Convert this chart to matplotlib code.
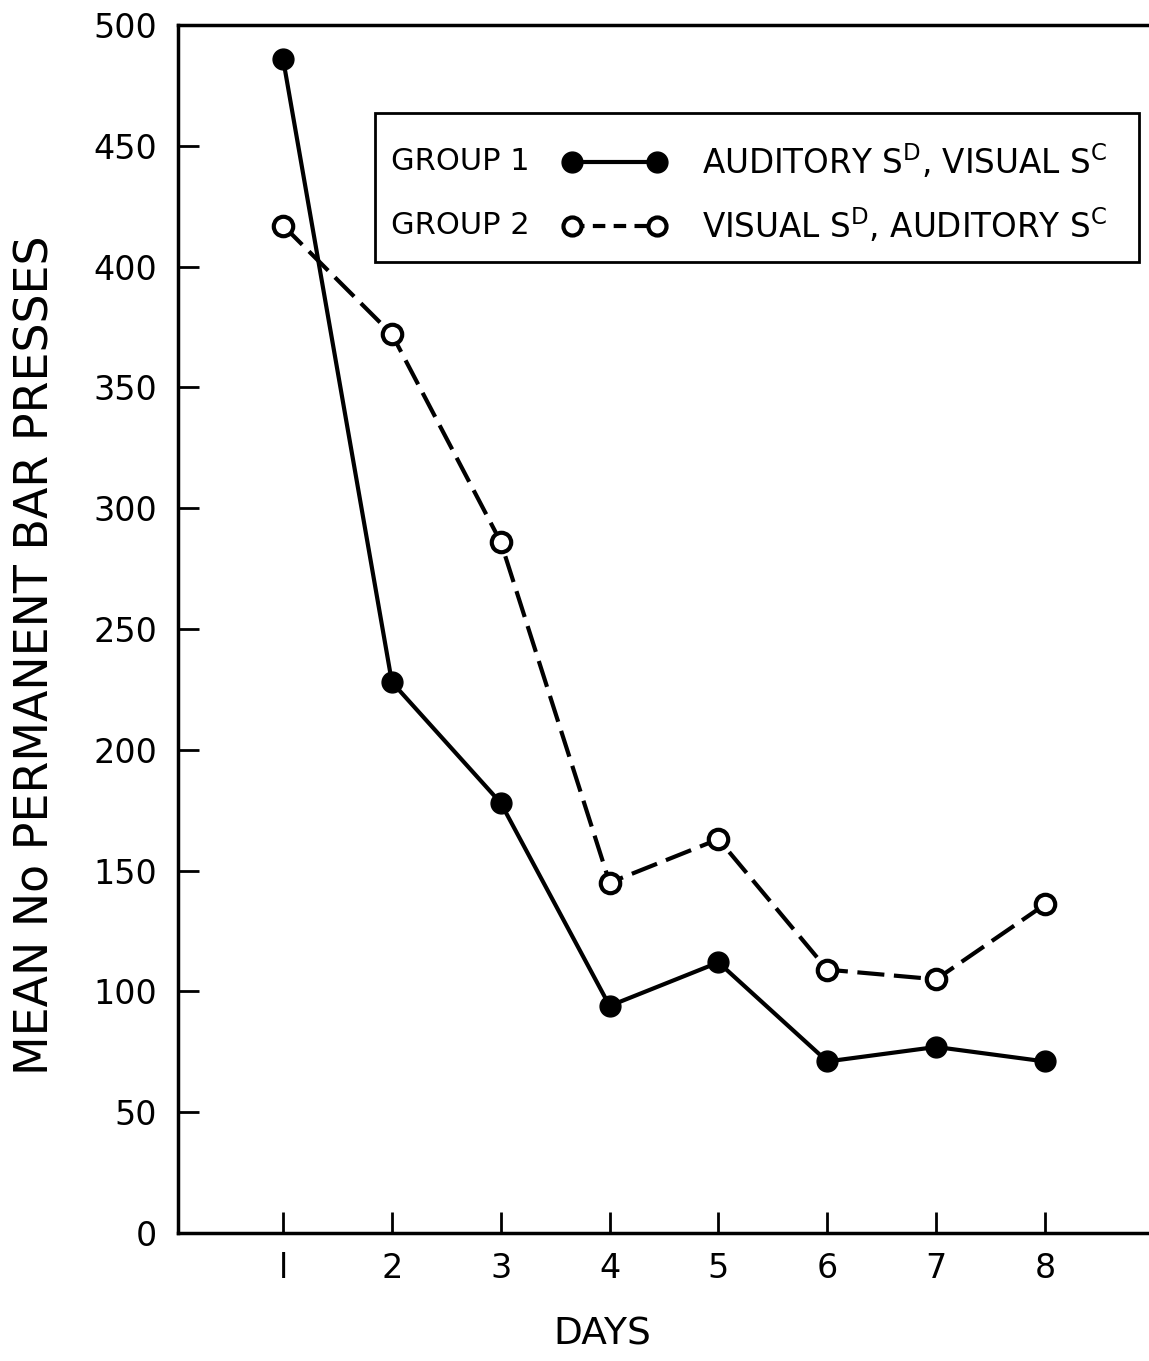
import matplotlib
matplotlib.use('Agg')
import matplotlib.pyplot as plt
from matplotlib.patches import Rectangle
from matplotlib.lines import Line2D

# mean number of permanent bar presses per day
days = [1, 2, 3, 4, 5, 6, 7, 8]
group1 = [486, 228, 178, 94, 112, 71, 77, 71]
group2 = [417, 372, 286, 145, 163, 109, 105, 136]
yticks = [0, 50, 100, 150, 200, 250, 300, 350, 400, 450, 500]
xlabels = ['l', '2', '3', '4', '5', '6', '7', '8']

plt.rcParams['font.family'] = 'DejaVu Sans'

fig = plt.figure(figsize=(11.49, 13.61), dpi=100)
ax = fig.add_axes([178 / 1149, 128 / 1361, 971 / 1149, 1208 / 1361])

# group 1: filled dots, solid line
ax.plot(days, group1, color='black', lw=3, marker='o', ms=15,
        mfc='black', mec='black', solid_capstyle='round', zorder=3)
# group 2: open dots, dashed line
ax.plot(days, group2, color='black', lw=3, marker='o', ms=14,
        mfc='white', mec='black', mew=3, dashes=(6.5, 2.3), zorder=3)

ax.set_xlim(0.035, 8.955)
ax.set_ylim(0, 500)
ax.set_xticks(days)
ax.set_yticks(yticks)
ax.set_xticklabels(xlabels)

for s in ['left', 'bottom', 'top']:
    ax.spines[s].set_linewidth(2.5)
ax.spines['right'].set_visible(False)

ax.tick_params(axis='both', direction='in', length=15, width=2, labelsize=24)
ax.tick_params(axis='x', pad=14)
ax.tick_params(axis='y', pad=15)

ax.set_xlabel('DAYS', fontsize=27)
ax.xaxis.set_label_coords(0.437, -0.0695)
ax.set_ylabel('MEAN No PERMANENT BAR PRESSES', fontsize=33)
ax.yaxis.set_label_coords(-0.123, 0.478)

# legend box
ax.add_patch(Rectangle((0.203, 0.804), 0.787, 0.123, transform=ax.transAxes,
                       fill=False, lw=2, ec='black', zorder=4))
rows = [(0.887, 'GROUP 1', r'AUDITORY S$^{\mathrm{D}}$, VISUAL S$^{\mathrm{C}}$'),
        (0.834, 'GROUP 2', r'VISUAL S$^{\mathrm{D}}$, AUDITORY S$^{\mathrm{C}}$')]
for yy, name, desc in rows:
    ax.text(0.219, yy, name, transform=ax.transAxes, fontsize=22, va='center')
    ax.text(0.540, yy, desc, transform=ax.transAxes, fontsize=23.5, va='center')

x0, x1 = 0.406, 0.493
ax.add_line(Line2D([x0, x1], [0.887, 0.887], transform=ax.transAxes,
                   color='black', lw=3, marker='o', ms=15, mfc='black'))
ax.add_line(Line2D([x0, x1], [0.834, 0.834], transform=ax.transAxes,
                   color='black', lw=3, marker='o', ms=13, mfc='white',
                   mew=3, dashes=(3, 2)))

fig.savefig('out.png', dpi=100)
